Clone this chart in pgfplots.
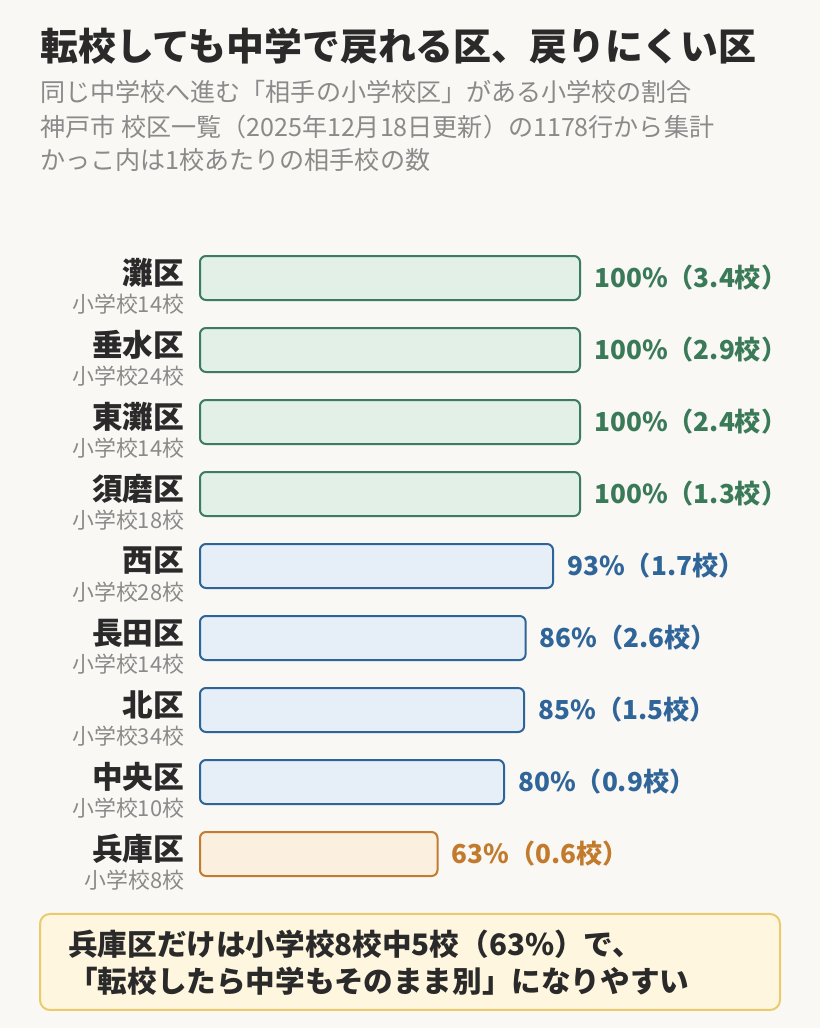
\documentclass[border=0pt]{standalone}
\usepackage{fontspec}
\setmainfont{Noto Sans CJK JP}
\usepackage{pgfplots}
\pgfplotsset{compat=1.18}

\definecolor{bg}{HTML}{FAF8F4}
\definecolor{titlec}{HTML}{2A2A2A}
\definecolor{subc}{HTML}{8A8A8A}
\definecolor{gedge}{HTML}{3B7D5E}
\definecolor{gfill}{HTML}{E3F0E8}
\definecolor{gtext}{HTML}{3A7A58}
\definecolor{bedge}{HTML}{2E6599}
\definecolor{bfill}{HTML}{E6EFF8}
\definecolor{btext}{HTML}{2F6598}
\definecolor{oedge}{HTML}{C27B2F}
\definecolor{ofill}{HTML}{FBF0E0}
\definecolor{otext}{HTML}{C27A2C}
\definecolor{boxfill}{HTML}{FFF6DF}
\definecolor{boxedge}{HTML}{E9CB6E}

\begin{document}
\begin{tikzpicture}[x=0.75pt,y=0.75pt]
\fill[bg] (0,0) rectangle (820,1028);
\path[use as bounding box] (0,0) rectangle (820,1028);

% title and notes
\node[anchor=west,inner sep=0,text=titlec,font=\fontsize{28.4}{32}\selectfont\bfseries] at (40,982) {転校しても中学で戻れる区、戻りにくい区};
\node[anchor=west,inner sep=0,text=subc,font=\fontsize{18.8}{22}\selectfont] at (40,936) {同じ中学校へ進む「相手の小学校区」がある小学校の割合};
\node[anchor=west,inner sep=0,text=subc,font=\fontsize{18.8}{22}\selectfont] at (40,901) {神戸市 校区一覧（2025年12月18日更新）の1178行から集計};
\node[anchor=west,inner sep=0,text=subc,font=\fontsize{18.8}{22}\selectfont] at (40,868) {かっこ内は1校あたりの相手校の数};

\begin{axis}[
    at={(150pt,103.5pt)}, anchor=south west,
    width=285pt, height=486pt, scale only axis,
    xbar, bar width=33pt, bar shift=0pt,
    xmin=0, xmax=100, ymin=-0.5, ymax=8.5, y dir=reverse,
    axis line style={draw=none}, tick style={draw=none},
    xtick=\empty,
    ytick={0,...,8},
    yticklabels={灘区,垂水区,東灘区,須磨区,西区,長田区,北区,中央区,兵庫区},
    yticklabel style={anchor=east, inner sep=0pt, xshift=-7.5pt, yshift=3.75pt,
        text=titlec, font=\fontsize{23}{26}\selectfont\bfseries},
    extra y ticks={0,...,8},
    extra y tick labels={小学校14校,小学校24校,小学校14校,小学校18校,小学校28校,小学校14校,小学校34校,小学校10校,小学校8校},
    extra y tick style={yticklabel style={yshift=-23pt,
        text=subc, font=\fontsize{16.4}{18}\selectfont\mdseries}},
    point meta=explicit symbolic,
    nodes near coords,
    nodes near coords style={anchor=west, inner sep=0pt, xshift=10pt,
        font=\fontsize{19.6}{22}\selectfont\bfseries},
    clip=false,
]
\addplot[draw=gedge, fill=gfill, line width=1.5pt, rounded corners=4.5pt,
    nodes near coords style={text=gtext}]
coordinates {
    (100,0) [100\%（3.4校）]
    (100,1) [100\%（2.9校）]
    (100,2) [100\%（2.4校）]
    (100,3) [100\%（1.3校）]
};
\addplot[draw=bedge, fill=bfill, line width=1.5pt, rounded corners=4.5pt,
    nodes near coords style={text=btext}]
coordinates {
    (92.9,4) [93\%（1.7校）]
    (85.7,5) [86\%（2.6校）]
    (85.3,6) [85\%（1.5校）]
    (80,7) [80\%（0.9校）]
};
\addplot[draw=oedge, fill=ofill, line width=1.5pt, rounded corners=4.5pt,
    nodes near coords style={text=otext}]
coordinates {
    (62.5,8) [63\%（0.6校）]
};
\end{axis}

% conclusion box
\draw[boxedge, fill=boxfill, line width=1.5pt, rounded corners=7.5pt] (40,18) rectangle (780,114);
\node[anchor=west,inner sep=0,text=titlec,font=\fontsize{22.2}{25}\selectfont\bfseries] at (68,84) {兵庫区だけは小学校8校中5校（63\%）で、};
\node[anchor=west,inner sep=0,text=titlec,font=\fontsize{22.2}{25}\selectfont\bfseries] at (68,47) {「転校したら中学もそのまま別」になりやすい};
\end{tikzpicture}
\end{document}
